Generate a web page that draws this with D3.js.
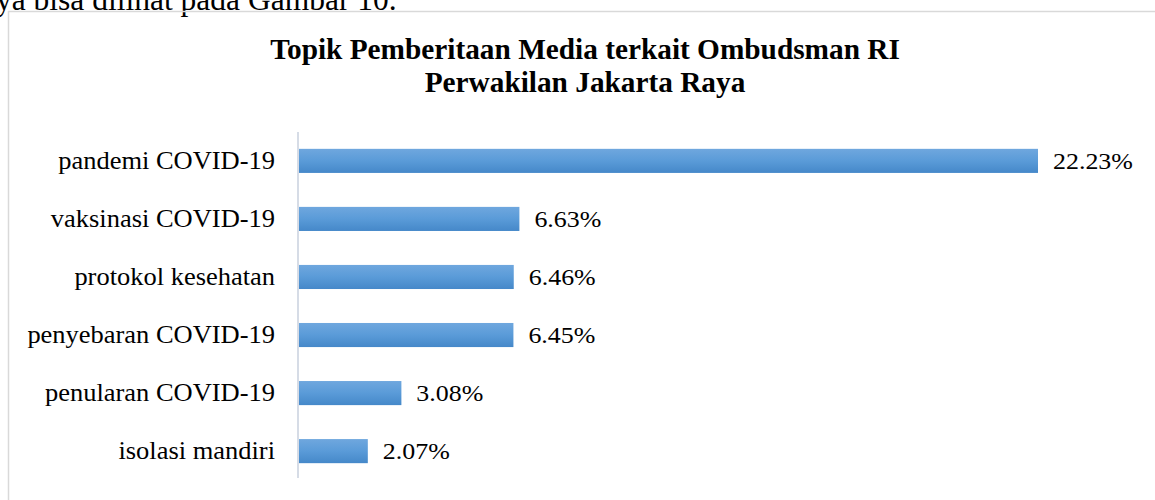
<!DOCTYPE html>
<html><head><meta charset="utf-8">
<script src="https://cdn.jsdelivr.net/npm/d3@7"></script>
<style>html,body{margin:0;padding:0;background:#fff;}svg{display:block;}</style>
</head><body>
<svg id="c" width="1155" height="500"></svg>
<script>
const categories = ["pandemi COVID-19","vaksinasi COVID-19","protokol kesehatan","penyebaran COVID-19","penularan COVID-19","isolasi mandiri"];
const values = [22.23, 6.63, 6.46, 6.45, 3.08, 2.07];
const valueLabels = ["22.23%","6.63%","6.46%","6.45%","3.08%","2.07%"];
const titleLines = ["Topik Pemberitaan Media terkait Ombudsman RI","Perwakilan Jakarta Raya"];
const pageText = "ya bisa dilihat pada Gambar 10.";

const svg = d3.select("#c");
const FONT = "'Liberation Serif','Times New Roman',serif";
const SX = 1.08;
svg.append("rect").attr("width",1155).attr("height",500).attr("fill","#fff");

function stretch(sel, f){
  sel.each(function(){ const L=this.getComputedTextLength(); d3.select(this).attr("textLength",L*f).attr("lengthAdjust","spacingAndGlyphs"); });
}

// page text cut at top
svg.append("text").attr("x",-4).attr("y",9.5).attr("font-family",FONT).attr("font-size",31.5).attr("fill","#000").text(pageText);

// chart border
svg.append("line").attr("x1",8).attr("x2",1155).attr("y1",11.5).attr("y2",11.5).attr("stroke","#d9d9d9").attr("stroke-width",1.5);
svg.append("line").attr("x1",8.5).attr("x2",8.5).attr("y1",11).attr("y2",500).attr("stroke","#d9d9d9").attr("stroke-width",1.5);

const defs = svg.append("defs");
const g = defs.append("linearGradient").attr("id","bg").attr("x1",0).attr("x2",0).attr("y1",0).attr("y2",1);
g.append("stop").attr("offset","0%").attr("stop-color","#6fa7de");
g.append("stop").attr("offset","50%").attr("stop-color","#5a9bd8");
g.append("stop").attr("offset","100%").attr("stop-color","#4588c9");

const x = d3.scaleLinear().domain([0, values[0]]).range([299, 1038]);
const y = d3.scaleBand().domain(categories).range([132, 480]).paddingInner(0.585).paddingOuter(0.29);

// title
const tt = svg.append("g").attr("font-family",FONT).attr("font-weight","bold").attr("font-size",29.3).attr("text-anchor","middle").attr("fill","#000");
tt.selectAll("text").data(titleLines).join("text").attr("x",585).attr("y",(d,i)=>58.5+i*33.8).text(d=>d);

// bars
svg.append("g").selectAll("rect").data(values).join("rect")
  .attr("x",x(0)).attr("y",(d,i)=>y(categories[i])).attr("width",d=>x(d)-x(0)).attr("height",y.bandwidth()).attr("fill","url(#bg)");

// axis line
const yAxis = d3.axisLeft(y).tickSize(0).tickPadding(23);
const ax = svg.append("g").attr("transform","translate(298,0)").call(yAxis);
ax.select(".domain").attr("d","M0,132V478").attr("stroke","#d6dce6").attr("stroke-width",2);
ax.selectAll("text").attr("font-family",FONT).attr("font-size",24.5).attr("fill","#000").attr("dy","0.32em").call(stretch, SX);

// value labels
svg.append("g").attr("font-family",FONT).attr("font-size",24).attr("fill","#000")
  .selectAll("text").data(values).join("text")
  .attr("x",d=>x(d)+15).attr("y",(d,i)=>y(categories[i])+y.bandwidth()/2).attr("dy","0.32em")
  .text((d,i)=>valueLabels[i]).call(stretch, SX);
</script>
</body></html>
